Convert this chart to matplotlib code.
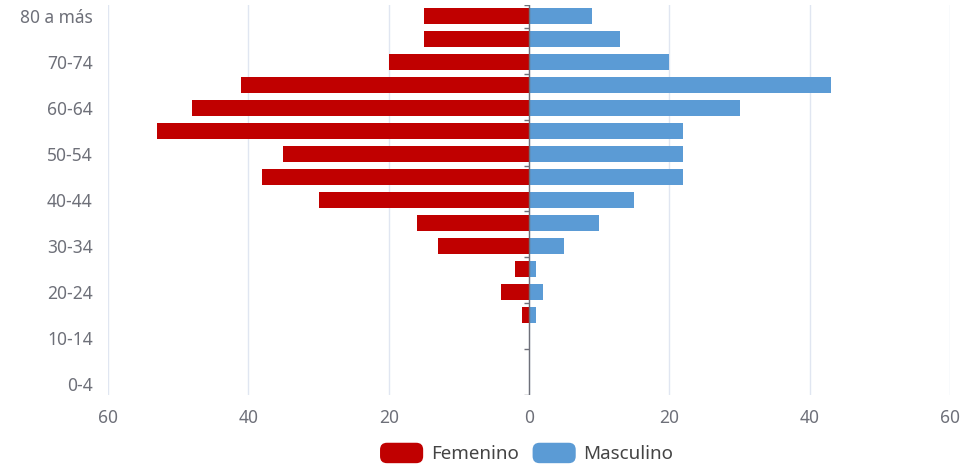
import numpy as np
import matplotlib.pyplot as plt
from matplotlib.patches import Patch, FancyBboxPatch
from matplotlib.legend_handler import HandlerPatch

# age groups (bottom to top)
ages = ['0-4', '5-9', '10-14', '15-19', '20-24', '25-29', '30-34', '35-39',
        '40-44', '45-49', '50-54', '55-59', '60-64', '65-69', '70-74',
        '75-79', '80 a más']
femenino = [0, 0, 0, 1, 4, 2, 13, 16, 30, 38, 35, 53, 48, 41, 20, 15, 15]
masculino = [0, 0, 0, 1, 2, 1, 5, 10, 15, 22, 22, 22, 30, 43, 20, 13, 9]
xticks = [-60, -40, -20, 0, 20, 40, 60]

RED = '#c00000'
BLUE = '#5b9bd5'
GREY = '#6e7079'
GRID = '#e0e6f1'
plt.rcParams['font.family'] = ['Noto Sans', 'DejaVu Sans']


class RoundHandler(HandlerPatch):
    def create_artists(self, legend, orig_handle, xdescent, ydescent,
                       width, height, fontsize, trans):
        p = FancyBboxPatch((-xdescent, -ydescent), width, height,
                           boxstyle='round,pad=0,rounding_size=5',
                           facecolor=orig_handle.get_facecolor(),
                           edgecolor='none', transform=trans)
        return [p]


fig = plt.figure(figsize=(9.61, 4.65), dpi=100)
ax = fig.add_axes([108 / 961, 1 - 395 / 465, 842 / 961, 390 / 465])

y = np.arange(len(ages))
ax.barh(y, -np.array(femenino), height=0.7, color=RED, zorder=3)
ax.barh(y, masculino, height=0.7, color=BLUE, zorder=3)

ax.set_xlim(-60, 60)
ax.set_ylim(-0.5, len(ages) - 0.5)
ax.set_xticks(xticks)
ax.set_xticklabels([str(abs(v)) for v in xticks])
ax.set_yticks(y[::2])
ax.set_yticklabels(ages[::2])
ax.tick_params(axis='both', length=0, colors=GREY, labelsize=12.5)
ax.tick_params(axis='x', pad=10)
ax.tick_params(axis='y', pad=11)

for s in ax.spines.values():
    s.set_visible(False)
ax.grid(axis='x', color=GRID, linewidth=1, zorder=0)
ax.set_axisbelow(True)

# category axis at zero with small ticks
ax.axvline(0, color=GREY, linewidth=1, zorder=4)
bounds = list(np.arange(-0.5, len(ages) - 0.5, 2)) + [len(ages) - 0.5]
for b in bounds:
    ax.plot([-0.7, 0], [b, b], color=GREY, linewidth=1, zorder=4,
            solid_capstyle='butt')

handles = [Patch(facecolor=RED, label='Femenino'),
           Patch(facecolor=BLUE, label='Masculino')]
fig.legend(handles=handles, loc='center', bbox_to_anchor=(0.548, 1 - 453 / 465),
           ncol=2, frameon=False, fontsize=13.5, handlelength=2.3,
           handleheight=1.3, handletextpad=0.4, columnspacing=0.75,
           labelcolor='#444444', borderpad=0,
           handler_map={Patch: RoundHandler()})

fig.savefig('out.png', dpi=100)
